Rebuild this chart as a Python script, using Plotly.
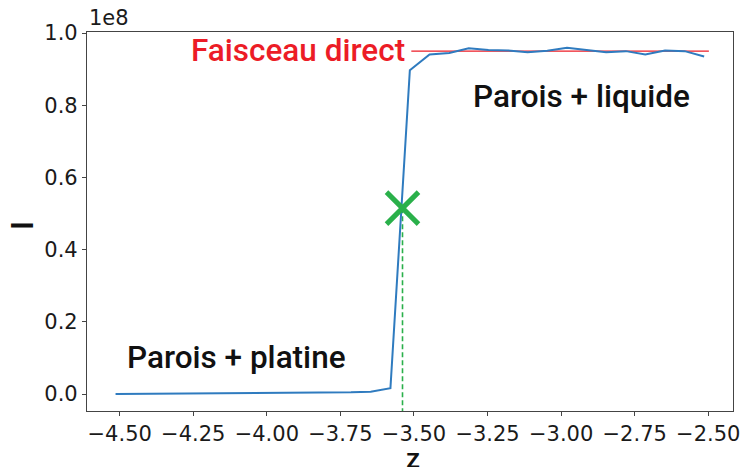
import numpy as np
import plotly.graph_objects as go

# Scan position z and transmitted intensity I (in units of 1e8)
z = [-4.514, -4.447, -4.380, -4.314, -4.247, -4.180, -4.114, -4.047,
     -3.980, -3.914, -3.847, -3.780, -3.714, -3.647, -3.580, -3.514,
     -3.447, -3.380, -3.314, -3.247, -3.180, -3.114, -3.047, -2.980,
     -2.914, -2.847, -2.780, -2.714, -2.647, -2.580, -2.514]
I_1e8 = [0.000, 0.0003, 0.0006, 0.0009, 0.0012, 0.0015, 0.0018, 0.0022,
         0.0026, 0.0030, 0.0034, 0.0040, 0.0048, 0.0065, 0.016, 0.897,
         0.941, 0.945, 0.958, 0.953, 0.952, 0.947, 0.951, 0.959,
         0.953, 0.947, 0.950, 0.941, 0.952, 0.950, 0.935]

# Direct beam level and the half-height crossing point
direct_level = 0.95e8
direct_span = [-3.509, -2.498]
z_half = -3.539
I_half = 0.515e8

x_ticks = [-4.50, -4.25, -4.00, -3.75, -3.50, -3.25, -3.00, -2.75, -2.50]
y_ticks_1e8 = [0.0, 0.2, 0.4, 0.6, 0.8, 1.0]

x_range = [-4.611, -2.416]
y_range = [-0.047e8, 1.003e8]

I = np.array(I_1e8) * 1e8

GREEN = "#2ab04a"
RED = "#ec1c26"
BLUE = "#2f7bbf"
TXT = "Roboto"
LABEL_FONT = dict(family=TXT, size=31.5, color="#111111", weight=500)

fig = go.Figure()

# vertical dashed marker line from the crossing point down to the axis
fig.add_trace(go.Scatter(
    x=[z_half, z_half], y=[I_half, y_range[0]], mode="lines",
    line=dict(color=GREEN, width=1.6, dash="5px,3px"), hoverinfo="skip"))

# direct-beam reference
fig.add_trace(go.Scatter(
    x=direct_span, y=[direct_level, direct_level], mode="lines",
    line=dict(color=RED, width=1.2), hoverinfo="skip"))

# measured intensity
fig.add_trace(go.Scatter(
    x=z, y=I, mode="lines", line=dict(color=BLUE, width=2)))

# half-height crossing marker
fig.add_trace(go.Scatter(
    x=[z_half], y=[I_half], mode="markers",
    marker=dict(symbol="x-thin", size=32, line=dict(color=GREEN, width=5))))

axis_common = dict(
    showgrid=False, zeroline=False, showline=True, mirror=True,
    linecolor="#444444", linewidth=1.2,
    ticks="outside", ticklen=4, tickwidth=1, tickcolor="#444444",
    tickfont=dict(family="DejaVu Sans", size=21, color="#1a1a1a"),
)

fig.update_xaxes(
    range=x_range, tickmode="array", tickvals=x_ticks,
    ticktext=[f"{v:.2f}".replace("-", "\u2212") for v in x_ticks],
    **axis_common)
fig.update_yaxes(
    range=y_range, tickmode="array",
    tickvals=[v * 1e8 for v in y_ticks_1e8],
    ticktext=[f"{v:.1f}" for v in y_ticks_1e8],
    **axis_common)

annotations = [
    dict(x=-3.525, y=0.953e8, xref="x", yref="y", text="Faisceau direct",
         showarrow=False, xanchor="right", yanchor="middle",
         font=dict(LABEL_FONT, color=RED)),
    dict(x=-2.931, y=0.823e8, xref="x", yref="y", text="Parois + liquide",
         showarrow=False, xanchor="center", yanchor="middle",
         font=LABEL_FONT),
    dict(x=-4.104, y=0.10e8, xref="x", yref="y", text="Parois + platine",
         showarrow=False, xanchor="center", yanchor="middle",
         font=LABEL_FONT),
    # axis titles
    dict(x=-0.0995, y=0.49, xref="paper", yref="paper", text="I",
         showarrow=False, textangle=-90, xanchor="center", yanchor="middle",
         font=LABEL_FONT),
    dict(x=0.5045, y=-0.1245, xref="paper", yref="paper", text="z",
         showarrow=False, xanchor="center", yanchor="middle",
         height=18, valign="middle", borderpad=0,
         font=dict(LABEL_FONT, size=28)),
    # scale factor of the y axis
    dict(x=0.0, y=1.0, xref="paper", yref="paper", text="1e8",
         showarrow=False, xanchor="left", yanchor="bottom", yshift=0,
         font=dict(family="DejaVu Sans", size=21, color="#1a1a1a")),
]

fig.update_layout(
    width=749, height=470,
    margin=dict(l=87, r=9, t=32, b=59),
    paper_bgcolor="white", plot_bgcolor="white",
    showlegend=False,
    annotations=annotations,
)

fig.write_html("out.html")
